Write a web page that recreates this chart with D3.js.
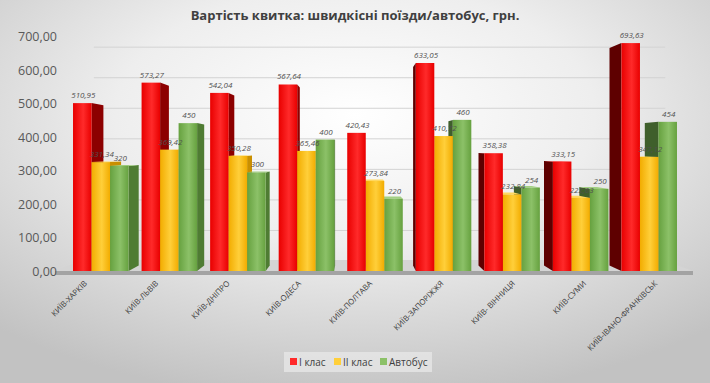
<!DOCTYPE html>
<html>
<head>
<meta charset="utf-8">
<script src="https://cdn.jsdelivr.net/npm/d3@7"></script>
<style>
  body { margin: 0; }
  svg { display: block; font-family: "Open Sans", "DejaVu Sans", sans-serif; }
</style>
</head>
<body>
<svg id="chart"></svg>
<script>
var routes = ["КИЇВ-ХАРКІВ", "КИЇВ-ЛЬВІВ", "КИЇВ-ДНІПРО", "КИЇВ-ОДЕСА", "КИЇВ-ПОЛТАВА",
  "КИЇВ-ЗАПОРІЖЖЯ", "КИЇВ- ВІННИЦЯ", "КИЇВ-СУМИ", "КИЇВ-ІВАНО-ФРАНКІВСЬК"];
var series = ["I клас", "II клас", "Автобус"];
var firstClass = [510.95, 573.27, 542.04, 567.64, 420.43, 633.05, 358.38, 333.15, 693.63];
var secondClass = [331.34, 369.42, 350.28, 365.46, 273.84, 410.72, 232.84, 222.63, 347.12];
var bus = [320, 450, 300, 400, 220, 460, 254, 250, 454];
var yTicks = [0, 100, 200, 300, 400, 500, 600, 700];

var width = 710,
    height = 383;

var svg = d3.select("#chart")
    .attr("width", width)
    .attr("height", height);

var defs = svg.append("defs");

var bg = defs.append("radialGradient").attr("id", "bg")
    .attr("cx", "50%").attr("cy", "30%").attr("r", "75%");
bg.append("stop").attr("offset", "0%").attr("stop-color", "#ffffff");
bg.append("stop").attr("offset", "45%").attr("stop-color", "#eeeeee");
bg.append("stop").attr("offset", "100%").attr("stop-color", "#c2c2c2");

svg.append("rect").attr("width", width).attr("height", height).attr("fill", "url(#bg)");

// colours per series: front gradient stops, right side, left side, top
var colors = [
  { a: "#e80000", b: "#ff2a2a", right: "#8c0000", left: "#5e0000", top: "#ff5050" },
  { a: "#f2ac00", b: "#ffcf3a", right: "#c98f00", left: "#a07400", top: "#ffd860" },
  { a: "#66a13f", b: "#8cc168", right: "#4f7c33", left: "#3f5f2b", top: "#a3d083" }
];

colors.forEach(function(c, i) {
  var g = defs.append("linearGradient").attr("id", "front" + i)
      .attr("x1", "0%").attr("x2", "100%");
  g.append("stop").attr("offset", "0%").attr("stop-color", c.a);
  g.append("stop").attr("offset", "55%").attr("stop-color", c.b);
  g.append("stop").attr("offset", "100%").attr("stop-color", c.a);
});

var x = d3.scaleBand()
    .domain(routes)
    .range([60, 690])
    .paddingInner(0.19)
    .paddingOuter(0.19);

var xs = d3.scaleBand()
    .domain(series)
    .range([0, x.bandwidth()]);

// bars sit a little behind the axis plane, so their scale is slightly flatter
var y = d3.scaleLinear()
    .domain([0, 700])
    .range([271, 41]);

var yAxis = d3.scaleLinear()
    .domain([0, 700])
    .range([272, 37]);

// simple perspective: everything further back shrinks toward (vx, vy)
var vx = 355, vy = 150;
function back(px, py, s) {
  return [vx + (px - vx) * s, vy + (py - vy) * s];
}
var barDepth = 0.955,
    wallDepth = 0.91;

// back wall grid
var grid = svg.append("g");
yTicks.forEach(function(t) {
  var p1 = back(x.range()[0] + 8, yAxis(t), wallDepth),
      p2 = back(x.range()[1] + 6, yAxis(t), wallDepth);
  grid.append("line")
      .attr("x1", p1[0]).attr("y1", p1[1])
      .attr("x2", p2[0]).attr("y2", p2[1])
      .attr("stroke", "#d3d3d3").attr("stroke-width", 1);
});

// floor
var f0 = 55, f1 = 693;
var floorPts = [[f0, y(0)], [f1, y(0)], back(f1, y(0), wallDepth), back(f0, y(0), wallDepth)];
svg.append("polygon")
    .attr("points", floorPts.map(function(p) { return p.join(","); }).join(" "))
    .attr("fill", "#d4d4d4");
svg.append("rect")
    .attr("x", f0).attr("y", y(0))
    .attr("width", f1 - f0).attr("height", 4)
    .attr("fill", "#a3a3a3");

// y axis labels
svg.append("g").selectAll("text")
    .data(yTicks)
    .enter().append("text")
    .attr("x", 57)
    .attr("y", function(d) { return yAxis(d) + 4; })
    .attr("text-anchor", "end")
    .attr("font-size", 12.5)
    .attr("fill", "#595959")
    .text(function(d) { return d3.format(".2f")(d).replace(".", ","); });

// bars
var bars = [];
routes.forEach(function(r, i) {
  [firstClass, secondClass, bus].forEach(function(arr, j) {
    var x0 = x(r) + xs(series[j]);
    bars.push({ route: r, s: j, value: arr[i], x0: x0, x1: x0 + xs.bandwidth() });
  });
});

bars.sort(function(a, b) {
  return Math.abs((b.x0 + b.x1) / 2 - vx) - Math.abs((a.x0 + a.x1) / 2 - vx);
});

function pts(list) {
  return list.map(function(p) { return p[0].toFixed(1) + "," + p[1].toFixed(1); }).join(" ");
}

var barG = svg.append("g");
bars.forEach(function(d) {
  var g = barG.append("g");
  var top = y(d.value), bottom = y(0);
  var c = colors[d.s];
  if (d.x1 < vx) {
    g.append("polygon")
        .attr("points", pts([[d.x1, top], [d.x1, bottom], back(d.x1, bottom, barDepth), back(d.x1, top, barDepth)]))
        .attr("fill", c.right);
  } else if (d.x0 > vx) {
    g.append("polygon")
        .attr("points", pts([[d.x0, top], [d.x0, bottom], back(d.x0, bottom, barDepth), back(d.x0, top, barDepth)]))
        .attr("fill", c.left);
  }
  if (top > vy) {
    g.append("polygon")
        .attr("points", pts([[d.x0, top], [d.x1, top], back(d.x1, top, barDepth), back(d.x0, top, barDepth)]))
        .attr("fill", c.top);
  }
  g.append("rect")
      .attr("x", d.x0).attr("y", top)
      .attr("width", d.x1 - d.x0).attr("height", bottom - top)
      .attr("fill", "url(#front" + d.s + ")");
});

// value labels
svg.append("g").selectAll("text")
    .data(bars)
    .enter().append("text")
    .attr("x", function(d) { return (d.x0 + d.x1) / 2 + 1; })
    .attr("y", function(d) { return y(d.value) - 5; })
    .attr("text-anchor", "middle")
    .attr("font-size", 8)
    .attr("font-style", "italic")
    .attr("fill", "#505050")
    .text(function(d) {
      return d.s === 2 ? d3.format("d")(d.value) : d3.format(".2f")(d.value).replace(".", ",");
    });

// category labels
svg.append("g").selectAll("text")
    .data(routes)
    .enter().append("text")
    .attr("transform", function(d) {
      var cx = vx + (x(d) + x.bandwidth() / 2 - vx) * 1.04 - 3;
      return "translate(" + cx + ",284) rotate(-45)";
    })
    .attr("text-anchor", "end")
    .attr("font-size", 7.8)
    .attr("fill", "#404040")
    .text(function(d) { return d; });

// title
svg.append("text")
    .attr("x", width / 2)
    .attr("y", 20)
    .attr("text-anchor", "middle")
    .attr("font-size", 13)
    .attr("font-weight", "bold")
    .attr("fill", "#404040")
    .text("Вартість квитка: швидкісні поїзди/автобус, грн.");

// legend
var legend = svg.append("g").attr("transform", "translate(284,352)");
legend.append("rect")
    .attr("width", 148).attr("height", 20)
    .attr("fill", "#e6e6e6").attr("opacity", 0.8);
var legendX = [6, 50, 96];
series.forEach(function(s, i) {
  var item = legend.append("g").attr("transform", "translate(" + legendX[i] + ",0)");
  item.append("rect")
      .attr("x", 0).attr("y", 6)
      .attr("width", 7).attr("height", 7)
      .attr("fill", colors[i].b);
  item.append("text")
      .attr("x", 9).attr("y", 14)
      .attr("font-size", 10)
      .attr("fill", "#404040")
      .text(s);
});
</script>
</body>
</html>
